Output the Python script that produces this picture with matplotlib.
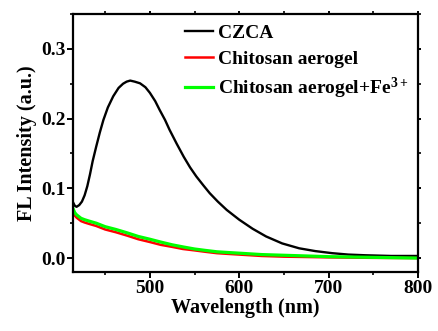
import numpy as np
import matplotlib
matplotlib.use('Agg')
import matplotlib.pyplot as plt
from matplotlib.ticker import MultipleLocator

plt.rcParams['font.family'] = 'Liberation Serif'
plt.rcParams['font.weight'] = 'bold'
plt.rcParams['mathtext.fontset'] = 'custom'
plt.rcParams['mathtext.rm'] = 'Liberation Serif:bold'
plt.rcParams['mathtext.default'] = 'rm'

# values
wl_czca = [414, 416, 418, 421, 424, 427, 430, 433, 436, 440, 444, 448, 453, 459, 465,
           470, 474, 478, 483, 489, 495, 500, 506, 511, 517, 522, 530, 538, 545, 552,
           560, 567, 576, 586, 600, 615, 630, 648, 667, 685, 704, 722, 741, 770, 800]
fl_czca = [0.080, 0.075, 0.0735, 0.076, 0.081, 0.090, 0.103, 0.120, 0.139, 0.160,
           0.180, 0.198, 0.216, 0.232, 0.244, 0.250, 0.253, 0.2545, 0.253, 0.2506,
           0.245, 0.237, 0.225, 0.2123, 0.198, 0.184, 0.164, 0.145, 0.130, 0.117,
           0.104, 0.093, 0.081, 0.069, 0.055, 0.042, 0.031, 0.021, 0.014, 0.010,
           0.007, 0.005, 0.004, 0.003, 0.003]

wl_cs = [414, 416, 418, 420, 423, 427, 432, 440, 450, 462, 475, 487, 500, 512, 525,
         537, 550, 562, 575, 587, 600, 625, 650, 675, 700, 750, 800]
fl_cs = [0.066, 0.061, 0.058, 0.056, 0.053, 0.051, 0.049, 0.046, 0.041, 0.037, 0.032,
         0.027, 0.023, 0.019, 0.016, 0.013, 0.011, 0.009, 0.007, 0.006, 0.005, 0.003,
         0.002, 0.0015, 0.001, 0.0003, 0.000]
fl_cs_fe = [0.071, 0.065, 0.062, 0.060, 0.057, 0.055, 0.053, 0.050, 0.045, 0.041,
            0.036, 0.031, 0.027, 0.023, 0.019, 0.016, 0.013, 0.011, 0.009, 0.008,
            0.007, 0.005, 0.004, 0.003, 0.002, 0.001, 0.000]

fig = plt.figure(figsize=(4.39, 3.31), dpi=100)
ax = fig.add_axes([73 / 439, 1 - 272 / 331, 345 / 439, 258 / 331])

ax.plot(wl_czca, fl_czca, color='black', lw=1.7, label='CZCA')
ax.plot(wl_cs, fl_cs, color='#ff0000', lw=1.8, label='Chitosan aerogel')
ax.plot(wl_cs, fl_cs_fe, color='#00ff00', lw=2.3, label='Chitosan aerogel+Fe$^{3+}$')

ax.set_xlim(414, 800)
ax.set_ylim(-0.02, 0.35)
ax.xaxis.set_major_locator(MultipleLocator(100))
ax.xaxis.set_minor_locator(MultipleLocator(50))
ax.yaxis.set_major_locator(MultipleLocator(0.1))
ax.yaxis.set_minor_locator(MultipleLocator(0.05))

for s in ax.spines.values():
    s.set_linewidth(1.6)
ax.tick_params(which='major', direction='out', length=4, width=1.4, labelsize=14, pad=1.5)
ax.tick_params(which='minor', direction='out', length=2.5, width=1.2)
ax.tick_params(which='both', top=True, right=True, labeltop=False, labelright=False)
for t in ax.xaxis.get_ticklines(minor=False)[1::2] + ax.yaxis.get_ticklines(minor=False)[1::2]:
    t.set_markersize(2)
for t in ax.xaxis.get_ticklines(minor=True)[1::2] + ax.yaxis.get_ticklines(minor=True)[1::2]:
    t.set_markersize(2)

ax.set_xlabel('Wavelength (nm)', fontsize=14.5, fontweight='bold', labelpad=1)
ax.set_ylabel('FL Intensity (a.u.)', fontsize=14.5, fontweight='bold', labelpad=3)

ax.legend(loc='upper left', bbox_to_anchor=(0.302, 0.99), frameon=False, fontsize=14,
          handlelength=1.45, handletextpad=0.25, labelspacing=0.42, borderaxespad=0)

fig.savefig('out.png', dpi=100)
